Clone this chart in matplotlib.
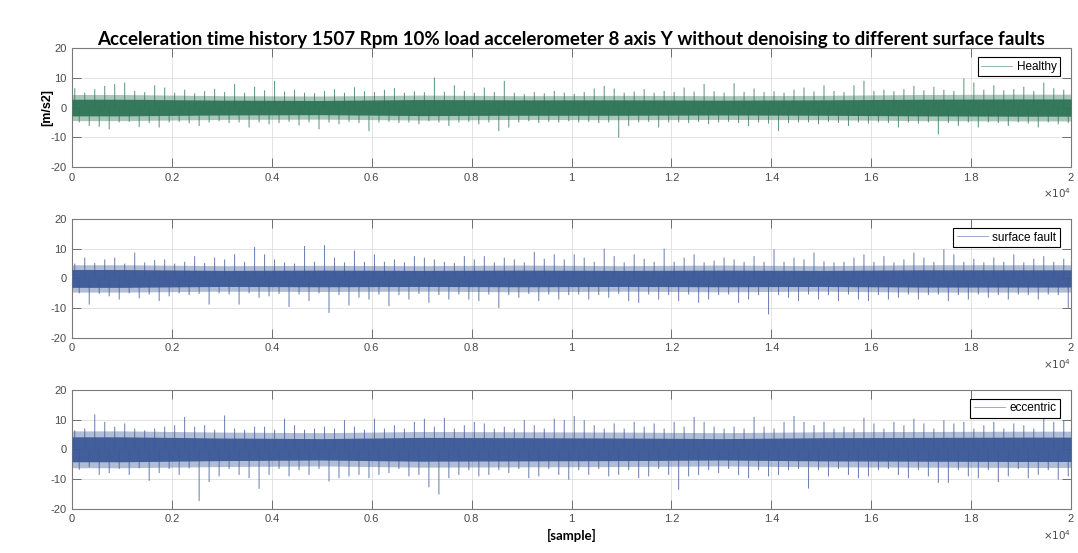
import matplotlib
matplotlib.use("Agg")
import matplotlib.pyplot as plt
from matplotlib.lines import Line2D
import numpy as np

# ---------------------------------------------------------------------------
# Acceleration records, 20000 samples each, summarised per 200-sample bin:
# the largest positive and negative excursion in every bin, plus, per
# 2000-sample block, the half-width of the solid vibration band and of the
# lighter fringe around it.
# ---------------------------------------------------------------------------
n_samples = 20000
bin_width = 200
block_width = 2000

healthy_hi = [6.5, 5.0, 6.2, 7.3, 7.9, 8.4, 5.6, 5.2, 7.5, 6.7,
              5.0, 6.0, 4.8, 5.5, 6.3, 5.2, 7.9, 5.0, 7.0, 5.8,
              9.0, 5.4, 6.0, 5.0, 4.8, 5.6, 6.2, 5.0, 6.8, 5.5,
              5.2, 6.0, 6.5, 5.0, 5.5, 5.2, 10.1, 5.3, 7.5, 5.6,
              5.0, 6.7, 5.2, 9.0, 5.0, 4.5, 5.2, 4.8, 5.6, 5.0,
              4.6, 5.2, 6.4, 7.3, 6.4, 5.0, 5.4, 6.2, 5.0, 5.6,
              5.2, 6.7, 5.4, 7.9, 5.5, 5.0, 8.2, 5.3, 6.4, 5.2,
              5.5, 5.0, 6.0, 6.7, 5.4, 7.5, 5.6, 5.2, 7.5, 9.0,
              5.6, 6.0, 5.5, 6.2, 7.3, 5.8, 7.0, 6.0, 5.6, 9.8,
              8.4, 6.0, 7.5, 5.8, 6.2, 7.0, 5.6, 8.4, 6.5, 6.0]
healthy_lo = [-5.0, -6.2, -6.5, -7.3, -5.0, -4.8, -6.5, -5.2, -6.7, -5.0,
              -4.8, -5.3, -6.2, -5.0, -4.6, -5.2, -5.0, -6.7, -5.0, -5.6,
              -5.2, -4.8, -6.0, -5.0, -7.3, -5.0, -5.6, -4.8, -5.2, -7.9,
              -5.0, -4.8, -5.2, -5.0, -5.6, -4.6, -5.0, -6.2, -5.0, -4.8,
              -5.6, -5.0, -7.9, -6.7, -5.0, -4.6, -5.2, -4.8, -5.0, -4.6,
              -5.0, -4.8, -5.2, -5.0, -10.1, -6.2, -5.0, -4.8, -6.7, -5.0,
              -5.0, -5.2, -4.8, -5.6, -5.0, -4.8, -5.2, -6.2, -5.0, -5.4,
              -7.9, -5.2, -5.0, -5.0, -5.6, -4.8, -5.2, -6.2, -5.0, -5.4,
              -5.0, -5.2, -6.7, -5.0, -5.4, -5.0, -9.0, -5.2, -6.2, -5.0,
              -6.7, -5.0, -5.2, -6.2, -5.0, -5.4, -6.7, -5.0, -5.6, -5.2]
healthy_band = [2.8, 2.5, 2.4, 2.7, 2.6, 2.6, 2.5, 2.6, 2.8, 2.9]
healthy_fringe = [4.4, 4.0, 3.9, 4.2, 4.0, 4.1, 4.0, 4.1, 4.4, 4.5]

surface_hi = [5.0, 7.0, 5.2, 6.4, 7.0, 5.0, 8.7, 5.4, 6.2, 6.4,
              5.0, 5.6, 7.5, 5.2, 7.0, 6.4, 8.1, 5.6, 10.6, 8.1,
              6.4, 5.4, 5.0, 10.9, 5.6, 11.2, 7.0, 5.4, 9.4, 5.6,
              8.1, 5.6, 6.4, 5.4, 7.5, 7.0, 6.4, 5.6, 5.2, 7.5,
              6.4, 7.5, 5.4, 7.0, 6.4, 5.4, 9.0, 6.6, 8.1, 6.4,
              8.1, 7.0, 5.6, 10.0, 7.5, 5.4, 8.1, 6.6, 5.6, 10.0,
              5.6, 7.0, 8.1, 5.4, 6.0, 7.0, 6.4, 5.6, 7.5, 5.6,
              9.8, 5.6, 7.0, 6.4, 8.7, 5.8, 5.4, 5.6, 7.0, 8.1,
              5.6, 7.5, 5.4, 6.4, 8.7, 7.0, 5.6, 9.8, 8.1, 5.6,
              6.6, 5.4, 7.0, 5.6, 8.1, 5.4, 6.6, 7.5, 5.6, 6.6]
surface_lo = [-5.0, -8.8, -5.2, -6.0, -7.1, -5.0, -6.7, -5.4, -7.6, -6.0,
              -5.0, -5.6, -5.2, -8.8, -5.0, -5.4, -8.8, -5.0, -6.5, -6.0,
              -5.2, -9.6, -5.4, -7.6, -5.0, -11.6, -5.6, -9.1, -6.5, -7.1,
              -5.4, -9.3, -5.6, -7.1, -5.2, -8.2, -5.6, -7.1, -5.4, -7.1,
              -7.6, -5.4, -9.9, -5.6, -6.5, -5.2, -7.6, -5.4, -7.1, -5.6,
              -5.4, -7.1, -5.6, -6.5, -5.2, -7.6, -8.2, -5.4, -7.1, -5.6,
              -7.6, -5.4, -8.2, -7.1, -5.6, -5.4, -8.2, -7.1, -5.6, -12.1,
              -5.6, -6.5, -7.6, -5.4, -7.1, -5.6, -7.6, -5.4, -7.1, -7.6,
              -5.6, -7.1, -6.5, -5.4, -7.1, -5.6, -5.4, -7.6, -5.6, -7.1,
              -5.4, -6.5, -5.6, -7.1, -5.4, -5.6, -7.1, -5.4, -5.6, -9.9]
surface_band = [3.0, 2.7, 2.8, 2.7, 2.8, 2.7, 2.8, 2.7, 2.9, 2.9]
surface_fringe = [4.6, 4.3, 4.4, 4.3, 4.5, 4.3, 4.5, 4.3, 4.6, 4.6]

eccentric_hi = [6.4, 7.0, 11.8, 9.2, 7.6, 8.7, 7.0, 6.4, 7.0, 7.6,
                8.1, 10.9, 7.6, 8.1, 6.6, 11.4, 7.0, 6.6, 7.6, 7.6,
                6.6, 10.3, 8.1, 6.6, 7.0, 7.6, 7.0, 9.8, 7.6, 6.6,
                10.3, 7.0, 8.1, 7.0, 9.2, 10.3, 7.6, 10.6, 7.0, 8.1,
                9.2, 8.7, 7.0, 7.6, 7.0, 9.8, 8.1, 7.0, 10.3, 9.8,
                11.2, 9.8, 8.1, 7.0, 8.7, 7.0, 9.2, 7.6, 8.7, 7.0,
                9.2, 7.6, 10.9, 9.2, 7.6, 7.0, 7.6, 7.0, 10.9, 7.6,
                7.0, 9.2, 11.2, 9.2, 8.1, 9.2, 7.0, 7.6, 7.0, 10.6,
                8.7, 7.0, 9.2, 8.1, 10.3, 8.7, 7.0, 9.8, 8.7, 9.2,
                7.0, 8.1, 9.2, 7.0, 8.7, 8.1, 7.0, 10.3, 9.2, 9.8]
eccentric_lo = [-6.9, -6.0, -8.6, -8.0, -6.6, -8.6, -6.4, -10.6, -8.0, -6.6,
                -8.6, -6.4, -17.4, -11.0, -9.1, -6.6, -8.6, -9.7, -13.3, -8.6,
                -6.6, -9.1, -7.0, -8.6, -6.6, -10.8, -9.7, -9.1, -8.6, -9.7,
                -8.6, -8.0, -6.6, -9.1, -8.6, -12.8, -15.2, -9.7, -8.6, -7.0,
                -9.1, -8.6, -7.0, -8.0, -6.6, -9.7, -9.1, -6.6, -8.6, -10.2,
                -7.0, -8.6, -6.6, -9.1, -8.6, -7.0, -9.7, -9.1, -6.6, -8.6,
                -13.6, -9.1, -8.6, -7.0, -8.0, -6.6, -8.6, -9.7, -7.0, -9.1,
                -8.6, -7.0, -6.6, -13.2, -7.0, -9.1, -6.6, -8.6, -9.7, -9.1,
                -7.0, -6.6, -8.6, -9.7, -7.0, -9.1, -11.3, -11.3, -7.0, -9.1,
                -9.7, -7.0, -11.0, -9.1, -6.6, -9.7, -8.6, -7.0, -10.2, -9.1]
eccentric_band = [4.2, 3.8, 3.6, 4.0, 3.9, 3.8, 3.6, 3.9, 4.0, 4.1]
eccentric_fringe = [6.2, 5.8, 5.6, 6.0, 5.9, 5.8, 5.6, 5.9, 6.0, 6.1]

series_names = ["Healthy", "surface fault", "eccentric"]
series_colors = ["#2e7556", "#3c5a98", "#3c5a98"]

x_ticks = list(range(0, 20001, 2000))
x_tick_labels = ["0", "0.2", "0.4", "0.6", "0.8", "1", "1.2", "1.4", "1.6", "1.8", "2"]
y_ticks = [-20, -10, 0, 10, 20]

title = ("Acceleration time history 1507 Rpm 10% load accelerometer 8 axis Y "
         "without denoising to different surface faults")

plt.rcParams["font.family"] = ["Liberation Sans", "DejaVu Sans"]
plt.rcParams["axes.unicode_minus"] = False

fig = plt.figure(figsize=(10.78, 5.53), dpi=100)
fig.patch.set_facecolor("white")

left, width, height = 0.0668, 0.9267, 0.2150
bottoms = [0.6980, 0.3890, 0.0800]

panels = [
    (healthy_hi, healthy_lo, healthy_band, healthy_fringe),
    (surface_hi, surface_lo, surface_band, surface_fringe),
    (eccentric_hi, eccentric_lo, eccentric_band, eccentric_fringe),
]

axes = []
for (hi, lo, band, fringe), name, color, b in zip(
        panels, series_names, series_colors, bottoms):
    ax = fig.add_axes([left, b, width, height])
    axes.append(ax)

    hi = np.asarray(hi)
    lo = np.asarray(lo)
    band = np.asarray(band)
    fringe = np.asarray(fringe)

    # band and fringe, plotted through the block centres
    block_x = np.arange(len(band)) * block_width + block_width / 2
    bx = np.concatenate([[0], block_x, [n_samples]])
    band_y = np.concatenate([[band[0]], band, [band[-1]]])
    fringe_y = np.concatenate([[fringe[0]], fringe, [fringe[-1]]])
    ax.fill_between(bx, -fringe_y, fringe_y, color=color, alpha=0.4,
                    linewidth=0, zorder=2)
    ax.fill_between(bx, -band_y, band_y, color=color, alpha=0.95,
                    linewidth=0, zorder=3)

    # positive and negative peak of every bin as vertical strokes
    starts = np.arange(len(hi)) * bin_width
    up = ax.vlines(starts + 55, 0, hi, color=color, linewidth=0.75,
                   alpha=0.75, zorder=4)
    dn = ax.vlines(starts + 145, lo, 0, color=color, linewidth=0.75,
                   alpha=0.75, zorder=4)
    up.set_snap(False)
    dn.set_snap(False)

    ax.set_xlim(0, n_samples)
    ax.set_ylim(-20, 20)
    ax.set_xticks(x_ticks)
    ax.set_xticklabels(x_tick_labels)
    ax.set_yticks(y_ticks)
    ax.grid(True, color="#dedede", linewidth=0.6, zorder=0)
    ax.set_axisbelow(True)
    ax.tick_params(direction="in", length=6.5, width=0.7, colors="#707070",
                   labelcolor="#4a4a4a", labelsize=8, top=True, right=True, pad=4)
    for sp in ax.spines.values():
        sp.set_color("#7a7a7a")
        sp.set_linewidth(0.8)

    handle = Line2D([], [], color=color, linewidth=0.6, alpha=0.6)
    leg = ax.legend([handle], [name], loc="upper right",
                    bbox_to_anchor=(1 - 11 / 999, 1 - 9 / 119),
                    borderaxespad=0, fancybox=False, framealpha=1,
                    edgecolor="black", fontsize=8.5, handlelength=2.6,
                    handletextpad=0.4, borderpad=0.3)
    leg.get_frame().set_linewidth(0.8)
    leg.set_zorder(10)

    ax.text(1.0, -0.22, r"$\times10^4$", transform=ax.transAxes,
            ha="right", va="center", fontsize=7.5, color="#4a4a4a")

axes[0].set_ylabel("[m/s2]", fontsize=9, fontweight="bold", labelpad=-2)
axes[0].set_title(title, fontsize=13.5, fontweight="bold", family="Lato", pad=2)
axes[2].set_xlabel("[sample]", fontsize=9.5, fontweight="bold", family="Lato",
                   labelpad=3)

fig.savefig("out.png", dpi=100, facecolor="white")
